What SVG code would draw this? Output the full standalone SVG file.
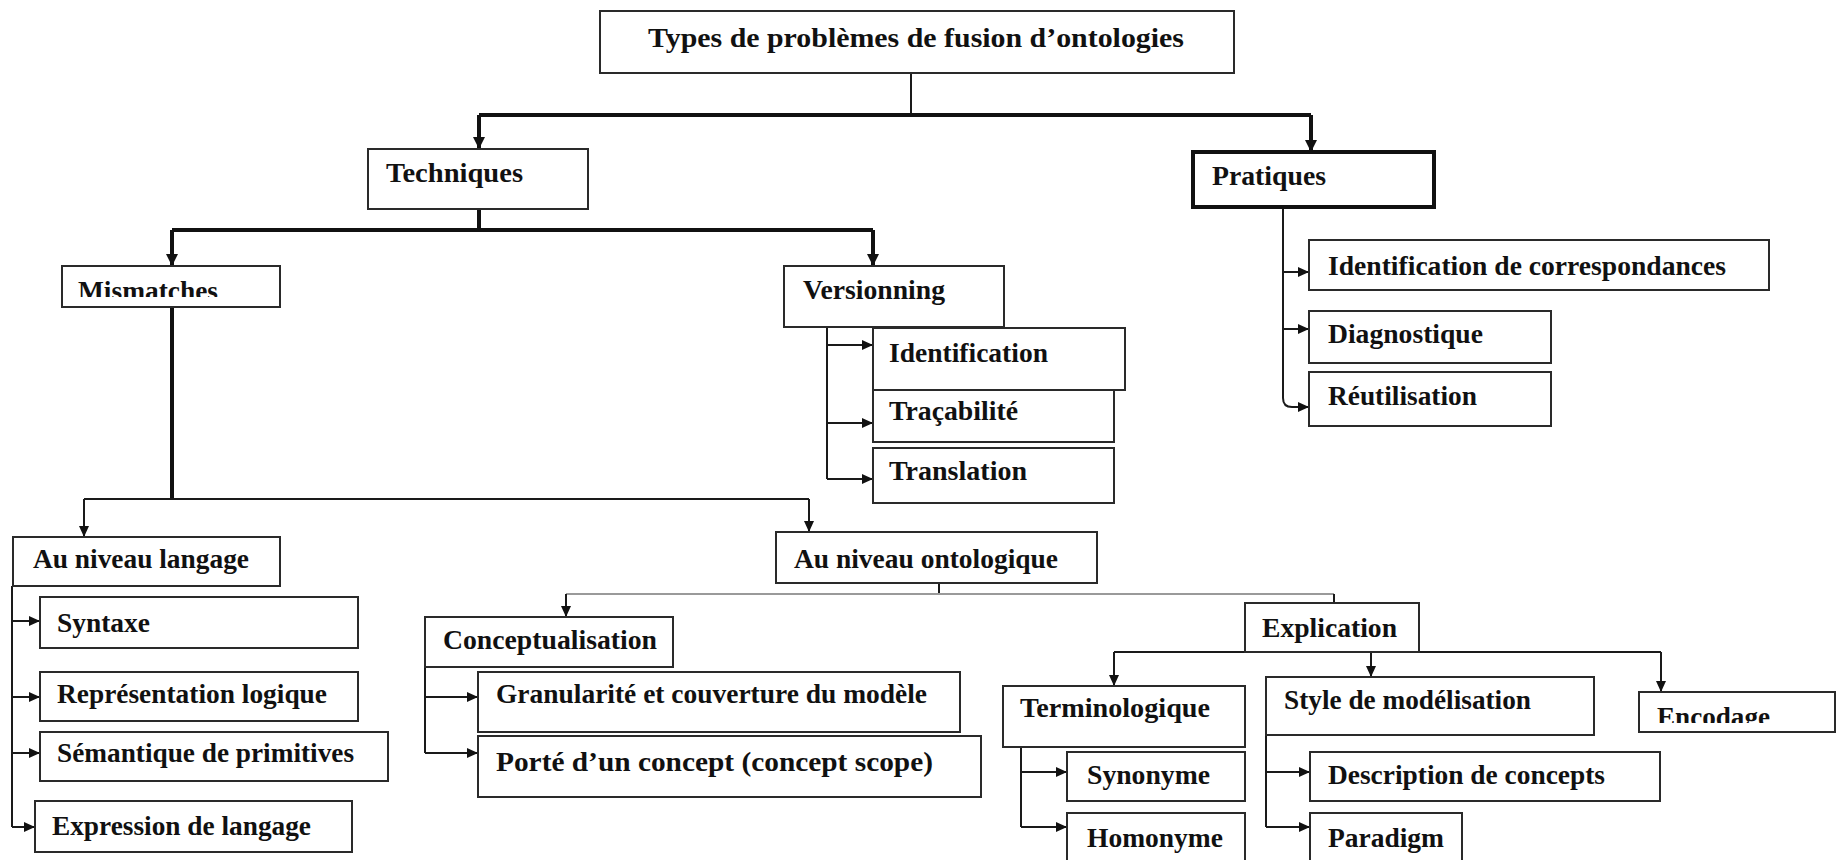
<svg xmlns="http://www.w3.org/2000/svg" width="1838" height="860" viewBox="0 0 1838 860">
  <style>
    .box { fill: #ffffff; stroke: #2a2a2a; stroke-width: 2; }
    .box-bold { fill: #ffffff; stroke: #111111; stroke-width: 4; }
    .lbl { font-family: "Liberation Serif", "Times New Roman", serif; font-weight: bold; font-size: 28px; fill: #111111; }
    .thick { fill: none; stroke: #111111; stroke-width: 4; }
    .thin { fill: none; stroke: #1a1a1a; stroke-width: 2; }
    .faint { fill: none; stroke: #9a9a9a; stroke-width: 2; }
  </style>
  <defs>
    <marker id="arrow" viewBox="0 0 11 10" refX="11" refY="5" markerWidth="11" markerHeight="10" markerUnits="userSpaceOnUse" orient="auto">
      <path d="M0,0 L11,5 L0,10 z" fill="#111111"/>
    </marker>
    <marker id="arrow-lg" viewBox="0 0 12 12" refX="12" refY="6" markerWidth="12" markerHeight="12" markerUnits="userSpaceOnUse" orient="auto">
      <path d="M0,0 L12,6 L0,12 z" fill="#111111"/>
    </marker>
    <clipPath id="clip-mismatches"><rect x="62" y="266" width="218" height="31"/></clipPath>
    <clipPath id="clip-encodage"><rect x="1639" y="692" width="196" height="31"/></clipPath>
  </defs>

  <rect width="1838" height="860" fill="#ffffff"/>

  <!-- connectors -->
  <g id="connectors">
    <!-- root to first level -->
    <path class="thin" d="M911,73 V115"/>
    <path class="thick" d="M479,115 H1311"/>
    <path class="thick" d="M479,115 V149" marker-end="url(#arrow-lg)"/>
    <path class="thick" d="M1311,115 V152" marker-end="url(#arrow-lg)"/>
    <!-- Techniques -->
    <path class="thick" d="M479,209 V230"/>
    <path class="thick" d="M172,230 H873"/>
    <path class="thick" d="M172,230 V266" marker-end="url(#arrow-lg)"/>
    <path class="thick" d="M873,230 V266" marker-end="url(#arrow-lg)"/>
    <!-- Pratiques -->
    <path class="thin" d="M1283,207 V398 Q1283,407 1292,407"/>
    <path class="thin" d="M1283,272 H1309" marker-end="url(#arrow)"/>
    <path class="thin" d="M1283,329 H1309" marker-end="url(#arrow)"/>
    <path class="thin" d="M1292,407 H1309" marker-end="url(#arrow)"/>
    <!-- Versionning -->
    <path class="thin" d="M827,327 V479"/>
    <path class="thin" d="M827,345 H873" marker-end="url(#arrow)"/>
    <path class="thin" d="M827,423 H873" marker-end="url(#arrow)"/>
    <path class="thin" d="M827,479 H873" marker-end="url(#arrow)"/>
    <!-- Mismatches -->
    <path class="thick" d="M172,284 V499"/>
    <path class="thin" d="M84,499 H809"/>
    <path class="thin" d="M84,499 V537" marker-end="url(#arrow)"/>
    <path class="thin" d="M809,499 V532" marker-end="url(#arrow)"/>
    <!-- Au niveau langage -->
    <path class="thin" d="M12,586 V827"/>
    <path class="thin" d="M12,621 H40" marker-end="url(#arrow)"/>
    <path class="thin" d="M12,697 H40" marker-end="url(#arrow)"/>
    <path class="thin" d="M12,753 H40" marker-end="url(#arrow)"/>
    <path class="thin" d="M12,827 H35" marker-end="url(#arrow)"/>
    <!-- Au niveau ontologique -->
    <path class="thin" d="M939,583 V594"/>
    <path class="faint" d="M566,594 H1334"/>
    <path class="thin" d="M566,594 V617" marker-end="url(#arrow)"/>
    <path class="thin" d="M1334,594 V613" marker-end="url(#arrow)"/>
    <!-- Conceptualisation -->
    <path class="thin" d="M425,640 V753"/>
    <path class="thin" d="M425,697 H478" marker-end="url(#arrow)"/>
    <path class="thin" d="M425,753 H478" marker-end="url(#arrow)"/>
    <!-- Explication -->
    <path class="thin" d="M1114,652 H1661"/>
    <path class="thin" d="M1114,652 V686" marker-end="url(#arrow)"/>
    <path class="thin" d="M1371,627 V677" marker-end="url(#arrow)"/>
    <path class="thin" d="M1661,652 V692" marker-end="url(#arrow)"/>
    <!-- Terminologique -->
    <path class="thin" d="M1021,747 V827"/>
    <path class="thin" d="M1021,772 H1067" marker-end="url(#arrow)"/>
    <path class="thin" d="M1021,827 H1067" marker-end="url(#arrow)"/>
    <!-- Style de modelisation -->
    <path class="thin" d="M1266,735 V827"/>
    <path class="thin" d="M1266,772 H1310" marker-end="url(#arrow)"/>
    <path class="thin" d="M1266,827 H1310" marker-end="url(#arrow)"/>
  </g>

  <g id="root">
    <rect class="box" x="600" y="11" width="634" height="62"/>
    <text class="lbl" x="648" y="47" textLength="536" lengthAdjust="spacingAndGlyphs">Types de problèmes de fusion d’ontologies</text>
  </g>
  <g id="techniques">
    <rect class="box" x="368" y="149" width="220" height="60"/>
    <text class="lbl" x="386" y="182" textLength="137" lengthAdjust="spacingAndGlyphs">Techniques</text>
  </g>
  <g id="pratiques">
    <rect class="box-bold" x="1193" y="152" width="241" height="55"/>
    <text class="lbl" x="1212" y="185" textLength="114" lengthAdjust="spacingAndGlyphs">Pratiques</text>
  </g>
  <g id="mismatches">
    <rect class="box" x="62" y="266" width="218" height="41"/>
    <text class="lbl" x="78" y="300" textLength="140" lengthAdjust="spacingAndGlyphs" clip-path="url(#clip-mismatches)">Mismatches</text>
  </g>
  <g id="versionning">
    <rect class="box" x="784" y="266" width="220" height="61"/>
    <text class="lbl" x="803" y="299" textLength="142" lengthAdjust="spacingAndGlyphs">Versionning</text>
  </g>
  <g id="identification">
    <rect class="box" x="873" y="328" width="252" height="62"/>
    <text class="lbl" x="889" y="362" textLength="159" lengthAdjust="spacingAndGlyphs">Identification</text>
  </g>
  <g id="tracabilite">
    <rect class="box" x="873" y="390" width="241" height="52"/>
    <text class="lbl" x="889" y="420" textLength="129" lengthAdjust="spacingAndGlyphs">Traçabilité</text>
  </g>
  <g id="translation">
    <rect class="box" x="873" y="448" width="241" height="55"/>
    <text class="lbl" x="889" y="480" textLength="138" lengthAdjust="spacingAndGlyphs">Translation</text>
  </g>
  <g id="identification-correspondances">
    <rect class="box" x="1309" y="240" width="460" height="50"/>
    <text class="lbl" x="1328" y="275" textLength="398" lengthAdjust="spacingAndGlyphs">Identification de correspondances</text>
  </g>
  <g id="diagnostique">
    <rect class="box" x="1309" y="311" width="242" height="52"/>
    <text class="lbl" x="1328" y="343" textLength="155" lengthAdjust="spacingAndGlyphs">Diagnostique</text>
  </g>
  <g id="reutilisation">
    <rect class="box" x="1309" y="372" width="242" height="54"/>
    <text class="lbl" x="1328" y="405" textLength="149" lengthAdjust="spacingAndGlyphs">Réutilisation</text>
  </g>
  <g id="niveau-langage">
    <rect class="box" x="13" y="537" width="267" height="49"/>
    <text class="lbl" x="33" y="568" textLength="216" lengthAdjust="spacingAndGlyphs">Au niveau langage</text>
  </g>
  <g id="niveau-ontologique">
    <rect class="box" x="776" y="532" width="321" height="51"/>
    <text class="lbl" x="794" y="568" textLength="264" lengthAdjust="spacingAndGlyphs">Au niveau ontologique</text>
  </g>
  <g id="syntaxe">
    <rect class="box" x="40" y="597" width="318" height="51"/>
    <text class="lbl" x="57" y="632" textLength="93" lengthAdjust="spacingAndGlyphs">Syntaxe</text>
  </g>
  <g id="representation-logique">
    <rect class="box" x="40" y="672" width="318" height="49"/>
    <text class="lbl" x="57" y="703" textLength="270" lengthAdjust="spacingAndGlyphs">Représentation logique</text>
  </g>
  <g id="semantique-primitives">
    <rect class="box" x="40" y="732" width="348" height="49"/>
    <text class="lbl" x="57" y="762" textLength="297" lengthAdjust="spacingAndGlyphs">Sémantique de primitives</text>
  </g>
  <g id="expression-langage">
    <rect class="box" x="35" y="801" width="317" height="51"/>
    <text class="lbl" x="52" y="835" textLength="259" lengthAdjust="spacingAndGlyphs">Expression de langage</text>
  </g>
  <g id="conceptualisation">
    <rect class="box" x="425" y="617" width="248" height="50"/>
    <text class="lbl" x="443" y="649" textLength="214" lengthAdjust="spacingAndGlyphs">Conceptualisation</text>
  </g>
  <g id="granularite">
    <rect class="box" x="478" y="672" width="482" height="60"/>
    <text class="lbl" x="496" y="703" textLength="431" lengthAdjust="spacingAndGlyphs">Granularité et couverture du modèle</text>
  </g>
  <g id="porte-concept">
    <rect class="box" x="478" y="736" width="503" height="61"/>
    <text class="lbl" x="496" y="771" textLength="437" lengthAdjust="spacingAndGlyphs">Porté d’un concept (concept scope)</text>
  </g>
  <g id="explication">
    <rect class="box" x="1245" y="603" width="174" height="49"/>
    <text class="lbl" x="1262" y="637" textLength="135" lengthAdjust="spacingAndGlyphs">Explication</text>
  </g>
  <g id="terminologique">
    <rect class="box" x="1003" y="686" width="242" height="61"/>
    <text class="lbl" x="1020" y="717" textLength="190" lengthAdjust="spacingAndGlyphs">Terminologique</text>
  </g>
  <g id="style-modelisation">
    <rect class="box" x="1266" y="677" width="328" height="58"/>
    <text class="lbl" x="1284" y="709" textLength="247" lengthAdjust="spacingAndGlyphs">Style de modélisation</text>
  </g>
  <g id="encodage">
    <rect class="box" x="1639" y="692" width="196" height="40"/>
    <text class="lbl" x="1657" y="726" textLength="113" lengthAdjust="spacingAndGlyphs" clip-path="url(#clip-encodage)">Encodage</text>
  </g>
  <g id="synonyme">
    <rect class="box" x="1067" y="752" width="178" height="49"/>
    <text class="lbl" x="1087" y="784" textLength="123" lengthAdjust="spacingAndGlyphs">Synonyme</text>
  </g>
  <g id="homonyme">
    <rect class="box" x="1067" y="813" width="178" height="52"/>
    <text class="lbl" x="1087" y="847" textLength="136" lengthAdjust="spacingAndGlyphs">Homonyme</text>
  </g>
  <g id="description-concepts">
    <rect class="box" x="1310" y="752" width="350" height="49"/>
    <text class="lbl" x="1328" y="784" textLength="277" lengthAdjust="spacingAndGlyphs">Description de concepts</text>
  </g>
  <g id="paradigm">
    <rect class="box" x="1310" y="813" width="152" height="52"/>
    <text class="lbl" x="1328" y="847" textLength="116" lengthAdjust="spacingAndGlyphs">Paradigm</text>
  </g>
</svg>
